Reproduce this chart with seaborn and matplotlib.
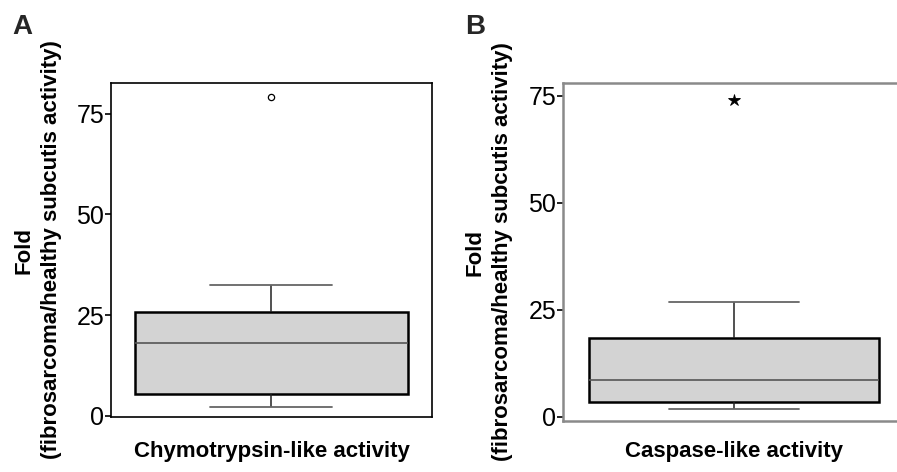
import numpy as np
import pandas as pd
import matplotlib
matplotlib.use("Agg")
import matplotlib.pyplot as plt
import seaborn as sns

# Fold values (fibrosarcoma / healthy subcutis)
chymotrypsin_fold = [2.2, 3.8, 5.5, 12.0, 18.1, 22.0, 25.8, 32.5, 79.2]
caspase_fold = [1.7, 2.4, 3.5, 6.0, 8.6, 13.0, 18.5, 26.9, 74.0]

panel_letters = ["A", "B"]
x_labels = ["Chymotrypsin-like activity", "Caspase-like activity"]
y_label = "Fold\n(fibrosarcoma/healthy subcutis activity)"
y_ticks = [0, 25, 50, 75]

sns.set_theme(style="white")
plt.rcParams["font.family"] = ["Liberation Sans", "DejaVu Sans"]

fig = plt.figure(figsize=(8.97, 4.72), dpi=100)

# axes placement in figure fraction (panel B runs past the right edge like the original)
ax_a = fig.add_axes([0.1237, 0.1165, 0.3579, 0.7076])
ax_b = fig.add_axes([0.6276, 0.1080, 0.3813, 0.7160])


def draw_panel(ax, values, flier, spine_color, spine_width, ylim, xlab, xlab_y, ylab_x):
    df = pd.DataFrame({"fold": values})
    sns.boxplot(
        data=df, y="fold", ax=ax, color="#d3d3d3", saturation=1,
        width=0.85, whis=1.5, capwidths=0.38,
        boxprops=dict(edgecolor="black", linewidth=1.8),
        medianprops=dict(color="#555555", linewidth=1.2),
        whiskerprops=dict(color="#222222", linewidth=1.1),
        capprops=dict(color="#666666", linewidth=1.3),
        flierprops=flier,
    )
    ax.set_ylim(*ylim)
    ax.set_xlim(-0.5, 0.5)
    ax.set_yticks(y_ticks)
    ax.set_xticks([])
    ax.tick_params(axis="y", left=True, length=4.5, width=1.2, color="black",
                   pad=0.5, labelcolor="black")
    for lab in ax.get_yticklabels():
        lab.set_family(["Liberation Sans Narrow", "Liberation Sans"])
        lab.set_fontsize(18)
    for side, sp in ax.spines.items():
        sp.set_color(spine_color)
        sp.set_linewidth(spine_width)
    ax.set_xlabel(xlab, fontsize=16, fontweight="bold", color="black")
    ax.xaxis.set_label_coords(0.5, xlab_y)
    ax.set_ylabel(y_label, fontsize=16, fontweight="bold", color="black", linespacing=1.4)
    ax.yaxis.set_label_coords(ylab_x, 0.5)


draw_panel(ax_a, chymotrypsin_fold,
           dict(marker="o", markersize=4.5, markerfacecolor="white",
                markeredgecolor="black", markeredgewidth=0.9),
           "black", 1.2, (-0.3, 82.6), x_labels[0], -0.072, -0.153)
ax_a.spines["right"].set_visible(True)

draw_panel(ax_b, caspase_fold,
           dict(marker="*", markersize=9, markerfacecolor="black",
                markeredgecolor="black", markeredgewidth=0.6),
           "#8a8a8a", 1.8, (-1.0, 78.0), x_labels[1], -0.059, -0.146)
ax_b.spines["right"].set_visible(False)

fig.text(12 / 897, 1 - 34 / 472, panel_letters[0], fontsize=20, fontweight="bold")
fig.text(465 / 897, 1 - 34 / 472, panel_letters[1], fontsize=20, fontweight="bold")

fig.savefig("out.png", dpi=100)
